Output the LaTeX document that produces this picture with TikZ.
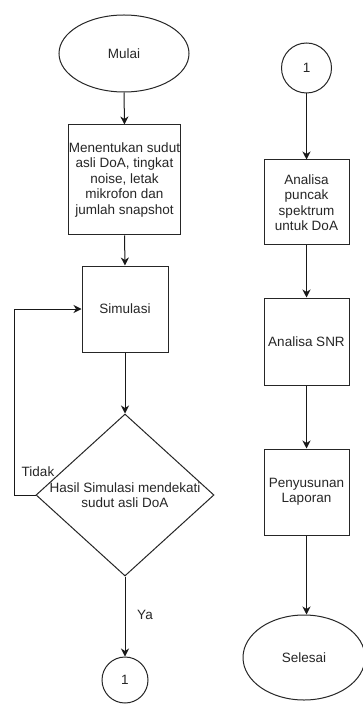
\documentclass[tikz,border=0pt]{standalone}
\usepackage{fontspec}
\setmainfont{Liberation Sans}
\usetikzlibrary{shapes.geometric,arrows.meta}
\begin{document}
\begin{tikzpicture}[x=1pt,y=-1pt,
  every node/.style={font=\fontsize{13.5}{15.5}\selectfont, text=black!85},
  shp/.style={draw=black!85, line width=1pt, inner sep=0pt},
  boxnode/.style={shp, rectangle, align=center},
  ellnode/.style={shp, ellipse},
  circnode/.style={shp, circle},
  decnode/.style={shp, diamond},
  conn/.style={draw=black!90, line width=1pt, -{Stealth[length=8pt,width=8pt,inset=2.5pt]}},
  lbl/.style={inner sep=0pt}
]
\useasboundingbox (0,0) rectangle (362,708);
\fill[white] (0,0) rectangle (362,708);

% left column
\node[ellnode, minimum width=130pt, minimum height=77pt] (start) at (124,53.5) {Mulai};
\node[boxnode, minimum width=109pt, minimum height=110pt] (setup) at (124.5,180)
  {Menentukan sudut\\asli DoA, tingkat\\noise, letak\\mikrofon dan\\jumlah snapshot};
\node[boxnode, minimum width=86pt, minimum height=86pt] (sim) at (125,309) {Simulasi};
\node[decnode, minimum width=178pt, minimum height=162pt] (dec) at (125,495) {};
\node[lbl, align=center] (dectext) at (125,495) {Hasil Simulasi mendekati\\sudut asli DoA};
\node[circnode, minimum size=46pt] (c1) at (125,680) {1};
\node[lbl] (tidak) at (38,472) {Tidak};
\node[lbl] (ya) at (145,615) {Ya};
\coordinate (lp) at (14,495);

% right column
\node[circnode, minimum size=50pt] (c2) at (306.5,68) {1};
\node[boxnode, minimum width=85pt, minimum height=85pt] (a1) at (306.5,202.5)
  {Analisa\\puncak\\spektrum\\untuk DoA};
\node[boxnode, minimum width=85pt, minimum height=87pt] (a2) at (306.5,341.5) {Analisa SNR};
\node[boxnode, minimum width=85pt, minimum height=86pt] (a3) at (306.5,492) {Penyusunan\\Laporan};
\node[ellnode, minimum width=122pt, minimum height=85pt] (end) at (304,657.5) {Selesai};

% connectors
\draw[conn] (start.south) -- (setup.north);
\draw[conn] (setup.south) -- (sim.north);
\draw[conn] (sim.south) -- (dec.north);
\draw[conn] (dec.south) -- (c1.north);
\draw[conn] (dec.west) -- (lp) |- (sim.west);

\draw[conn] (c2.south) -- (a1.north);
\draw[conn] (a1.south) -- (a2.north);
\draw[conn] (a2.south) -- (a3.north);
\draw[conn] (a3.south) -- (end.north -| a3.south);
\end{tikzpicture}
\end{document}
